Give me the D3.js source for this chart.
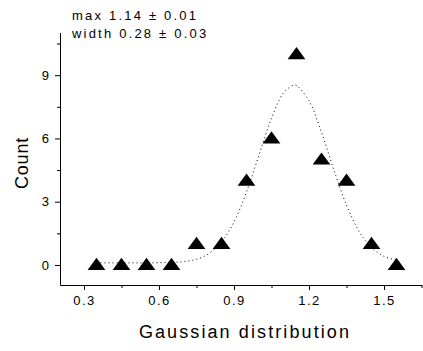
<!DOCTYPE html>
<html><head><meta charset="utf-8">
<script src="https://cdn.jsdelivr.net/npm/d3@7"></script>
<style>body{margin:0;background:#fff}svg{display:block}text{font-family:"Liberation Sans",Arial,sans-serif;fill:#000}</style>
</head><body><svg id="c" width="423" height="351"></svg>
<script>
// data
const binCenters = [0.35,0.45,0.55,0.65,0.75,0.85,0.95,1.05,1.15,1.25,1.35,1.45,1.55];
const counts     = [0,0,0,0,1,1,4,6,10,5,4,1,0];
// fitted curve
const fitX = [0.35,0.45,0.55,0.65,0.70,0.75,0.80,0.85,0.90,0.95,1.00,1.05,1.10,1.14,1.15,1.20,1.25,1.30,1.35,1.40,1.45,1.50,1.55];
const fitY = [0.10,0.10,0.10,0.12,0.16,0.27,0.54,1.09,2.04,3.46,5.21,6.96,8.19,8.53,8.51,7.79,6.29,4.49,2.84,1.60,0.83,0.41,0.22];
const xMajor = [0.3,0.6,0.9,1.2,1.5];
const xMinor = [0.45,0.75,1.05,1.35,1.65];
const yMajor = [0,3,6,9];
const yMinor = [1.5,4.5,7.5,10.5];
const annot = ["max 1.14 \u00b1 0.01","width 0.28 \u00b1 0.03"];

const svg = d3.select("#c");
const x = d3.scaleLinear().domain([0.204,1.652]).range([60,422]);
const y = d3.scaleLinear().domain([-0.95,11]).range([285,33]);

// x axis
const gx = svg.append("g").attr("transform","translate(0,285)");
gx.call(d3.axisBottom(x).tickValues(xMajor).tickSize(5).tickSizeOuter(0).tickFormat(d3.format(".1f")));
gx.call(g=>g.select(".domain").attr("d","M60.5,0.5H422"));
const gxm = svg.append("g").attr("transform","translate(0,285)");
gxm.call(d3.axisBottom(x).tickValues(xMinor).tickSize(3).tickSizeOuter(0).tickFormat(""));
gxm.select(".domain").remove();
gx.selectAll("text").attr("dy",null).attr("y",20).style("font-size","13px").style("letter-spacing","1.5px").attr("font-family",null);

// y axis
const gy = svg.append("g").attr("transform","translate(60,0)");
gy.call(d3.axisLeft(y).tickValues(yMajor).tickSize(5).tickSizeOuter(0).tickFormat(d3.format("d")));
gy.call(g=>g.select(".domain").attr("d","M0.5,33V285.5"));
const gym = svg.append("g").attr("transform","translate(60,0)");
gym.call(d3.axisLeft(y).tickValues(yMinor).tickSize(3).tickSizeOuter(0).tickFormat(""));
gym.select(".domain").remove();
gy.selectAll("text").attr("x",-11).style("font-size","13px").attr("font-family",null);
svg.selectAll(".tick line, .domain").attr("stroke","#000");

// fitted curve
const line = d3.line().x((d,i)=>x(fitX[i])).y(d=>y(d)).curve(d3.curveCatmullRom);
svg.append("path").attr("d",line(fitY)).attr("fill","none").attr("stroke","#000")
  .attr("stroke-width",1).attr("stroke-dasharray","1,3");

// triangles
const tri = d3.symbol().type(d3.symbolTriangle).size(95);
svg.selectAll(".pt").data(counts).enter().append("path")
  .attr("d",tri).attr("fill","#000")
  .attr("transform",(d,i)=>`translate(${x(binCenters[i])},${y(d)+1}) scale(1.2,0.95)`);

// labels
svg.append("text").attr("x",x(0.944)).attr("y",338).attr("text-anchor","middle")
  .style("font-size","18px").style("letter-spacing","2.1px").text("Gaussian distribution");
svg.append("text").attr("transform","translate(28,163) rotate(-90)").attr("text-anchor","middle")
  .style("font-size","18px").style("letter-spacing","0.8px").text("Count");
annot.forEach((t,i)=>svg.append("text").attr("x",72).attr("y",20+i*17.5)
  .style("font-size","13px").style("letter-spacing","2.2px").text(t));
</script></body></html>
